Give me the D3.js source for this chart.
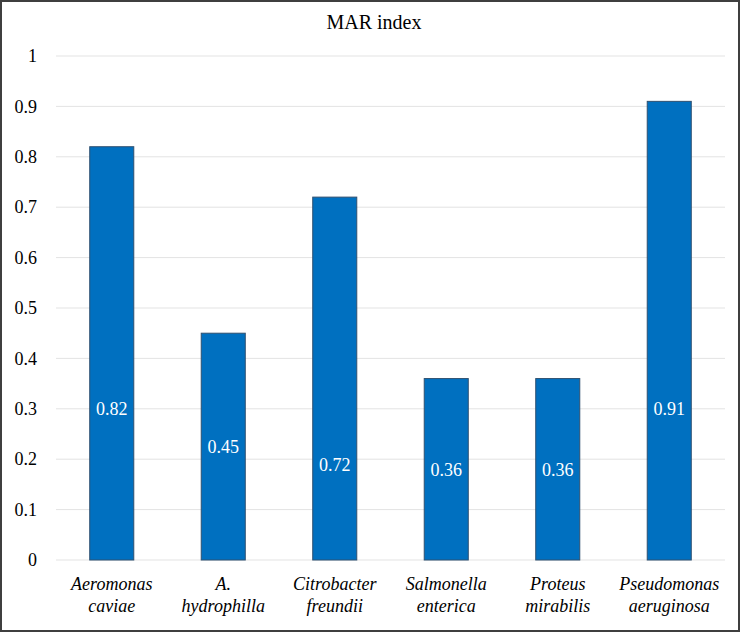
<!DOCTYPE html>
<html>
<head>
<meta charset="utf-8">
<script src="https://cdn.jsdelivr.net/npm/d3@7"></script>
<style>
  svg text { font-family: 'Liberation Serif', 'Times New Roman', Tinos, serif !important; }
</style>
</head>
<body style="margin:0;background:#fff">
<svg width="740" height="632" style="display:block"></svg>
<script>
// chart data
const species = [
  ["Aeromonas", "caviae"],
  ["A.", "hydrophilla"],
  ["Citrobacter", "freundii"],
  ["Salmonella", "enterica"],
  ["Proteus", "mirabilis"],
  ["Pseudomonas", "aeruginosa"]
];
const marIndex = [0.82, 0.45, 0.72, 0.36, 0.36, 0.91];
// where the value labels sit, in axis units
const labelAt = [0.30, 0.225, 0.19, 0.18, 0.18, 0.30];
const yTicks = [0, 0.1, 0.2, 0.3, 0.4, 0.5, 0.6, 0.7, 0.8, 0.9, 1];

const fontFam = 'Times New Roman';

const svg = d3.select('svg');
const width = 740, height = 632;
const margin = { top: 56, bottom: 72, left: 56, right: 15 };
const innerWidth = width - margin.left - margin.right;
const innerHeight = height - margin.top - margin.bottom;

// outer frame
svg.append('rect')
  .attr('x', 1).attr('y', 1)
  .attr('width', width - 2).attr('height', height - 2)
  .attr('fill', '#fff')
  .attr('stroke', '#3f3f3f')
  .attr('stroke-width', 2);

svg.append('text')
  .attr('x', width / 2 + 4)
  .attr('y', 29)
  .attr('text-anchor', 'middle')
  .style('font-family', fontFam)
  .attr('font-size', 20)
  .attr('fill', '#000')
  .text('MAR index');

const g = svg.append('g')
  .attr('transform', `translate(${margin.left},${margin.top})`);

const xScale = d3.scaleBand()
  .domain(d3.range(species.length))
  .range([0, innerWidth])
  .paddingInner(0.605)
  .paddingOuter(0.3025);

const yScale = d3.scaleLinear()
  .domain([0, 1])
  .range([innerHeight, 0]);

// gridlines
g.append('g')
  .selectAll('line')
  .data(yTicks)
  .join('line')
  .attr('x1', 0)
  .attr('x2', innerWidth)
  .attr('y1', d => yScale(d))
  .attr('y2', d => yScale(d))
  .attr('stroke', '#e3e3e3')
  .attr('stroke-width', 1);

// y axis labels
const yAxis = d3.axisLeft(yScale)
  .tickValues(yTicks)
  .tickSize(0)
  .tickPadding(19)
  .tickFormat(d => String(+d.toFixed(1)));
const ya = g.append('g').call(yAxis);
ya.attr('font-family', fontFam).attr('font-size', 18);
ya.select('.domain').remove();
ya.selectAll('text').attr('fill', '#000').style('font-family', fontFam);

// bars
g.append('g')
  .selectAll('rect')
  .data(marIndex)
  .join('rect')
  .attr('x', (d, i) => xScale(i))
  .attr('y', d => yScale(d))
  .attr('width', xScale.bandwidth())
  .attr('height', d => innerHeight - yScale(d))
  .attr('fill', '#0070c0')
  .attr('stroke', '#2f5070')
  .attr('stroke-width', 1);

// value labels
g.append('g')
  .selectAll('text')
  .data(marIndex)
  .join('text')
  .attr('x', (d, i) => xScale(i) + xScale.bandwidth() / 2)
  .attr('y', (d, i) => yScale(labelAt[i]))
  .attr('dy', '0.35em')
  .attr('text-anchor', 'middle')
  .style('font-family', fontFam)
  .attr('font-size', 18)
  .attr('fill', '#fff')
  .text(d => d.toFixed(2));

// category labels (two lines, italic)
const cat = g.append('g')
  .selectAll('text')
  .data(species)
  .join('text')
  .attr('text-anchor', 'middle')
  .style('font-family', fontFam)
  .attr('font-size', 18)
  .attr('font-style', 'italic')
  .attr('fill', '#000');
cat.append('tspan')
  .attr('x', (d, i) => xScale(i) + xScale.bandwidth() / 2)
  .attr('y', innerHeight + 30)
  .text(d => d[0]);
cat.append('tspan')
  .attr('x', (d, i) => xScale(i) + xScale.bandwidth() / 2)
  .attr('y', innerHeight + 52)
  .text(d => d[1]);
</script>
</body>
</html>
